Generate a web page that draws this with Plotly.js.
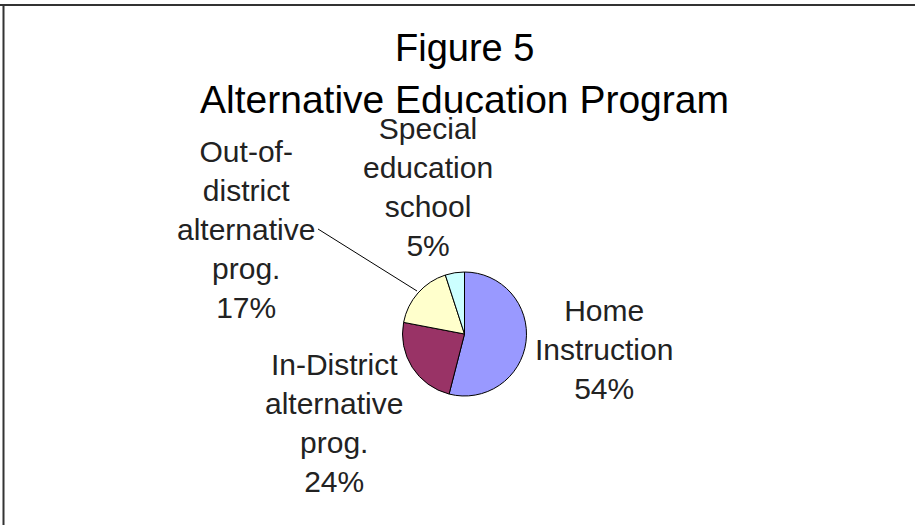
<!DOCTYPE html>
<html>
<head>
<meta charset="utf-8">
<script src="https://cdn.plot.ly/plotly-3.0.1.min.js"></script>
<style>html,body{margin:0;padding:0;background:#fff;}#chart{width:915px;height:525px;}</style>
</head>
<body>
<div id="chart"></div>
<script>
// Data
const categories = ["Home Instruction", "In-District alternative prog.", "Out-of-district alternative prog.", "Special education school"];
const values = [54, 24, 17, 5];
const sliceColors = ["#9999FF", "#993366", "#FFFFCC", "#CCFFFF"];
const labelTexts = [
  "Home<br>Instruction<br>54%",
  "In-District<br>alternative<br>prog.<br>24%",
  "Out-of-<br>district<br>alternative<br>prog.<br>17%",
  "Special<br>education<br>school<br>5%"
];
const titleLines = ["Figure 5", "Alternative Education Program"];

const W = 915, H = 525;
const px = x => x / W;
const py = y => 1 - y / H;

// label centers (pixel positions in the page)
const labelPos = [[604, 349], [334, 423], [246, 229], [428, 187]];

const annotations = [];
annotations.push({text: titleLines[0], x: px(464), y: py(48), xref: 'paper', yref: 'paper',
  xanchor: 'center', yanchor: 'middle', showarrow: false,
  font: {family: 'Liberation Sans, Arial, sans-serif', size: 38, color: '#000'}});
annotations.push({text: titleLines[1], x: px(464.5), y: py(99), xref: 'paper', yref: 'paper',
  xanchor: 'center', yanchor: 'middle', showarrow: false,
  font: {family: 'Liberation Sans, Arial, sans-serif', size: 39, color: '#000'}});
labelTexts.forEach((t, i) => {
  annotations.push({text: t, x: px(labelPos[i][0]), y: py(labelPos[i][1]), xref: 'paper', yref: 'paper',
    xanchor: 'center', yanchor: 'middle', showarrow: false, align: 'center',
    font: {family: 'Liberation Sans, Arial, sans-serif', size: 30, color: '#222'}});
});

const trace = {
  type: 'pie',
  labels: categories,
  values: values,
  sort: false,
  direction: 'clockwise',
  rotation: 0,
  textinfo: 'none',
  hoverinfo: 'skip',
  marker: {colors: sliceColors, line: {color: '#000', width: 1}},
  domain: {x: [402.5 / W, 526.5 / W], y: [(H - 396) / H, (H - 272) / H]},
  showlegend: false
};

const layout = {
  width: W, height: H,
  margin: {l: 0, r: 0, t: 0, b: 0},
  paper_bgcolor: '#fff',
  showlegend: false,
  annotations: annotations,
  shapes: [
    {type: 'line', xref: 'paper', yref: 'paper', x0: px(318), y0: py(229), x1: px(417), y1: py(291), line: {color: '#000', width: 1}},
    {type: 'line', xref: 'paper', yref: 'paper', x0: 0, y0: py(5), x1: 1, y1: py(5), line: {color: '#333', width: 2}},
    {type: 'line', xref: 'paper', yref: 'paper', x0: px(3.5), y0: py(5), x1: px(3.5), y1: 0, line: {color: '#333', width: 2}}
  ]
};

Plotly.newPlot('chart', [trace], layout, {staticPlot: true, displayModeBar: false});
</script>
</body>
</html>
